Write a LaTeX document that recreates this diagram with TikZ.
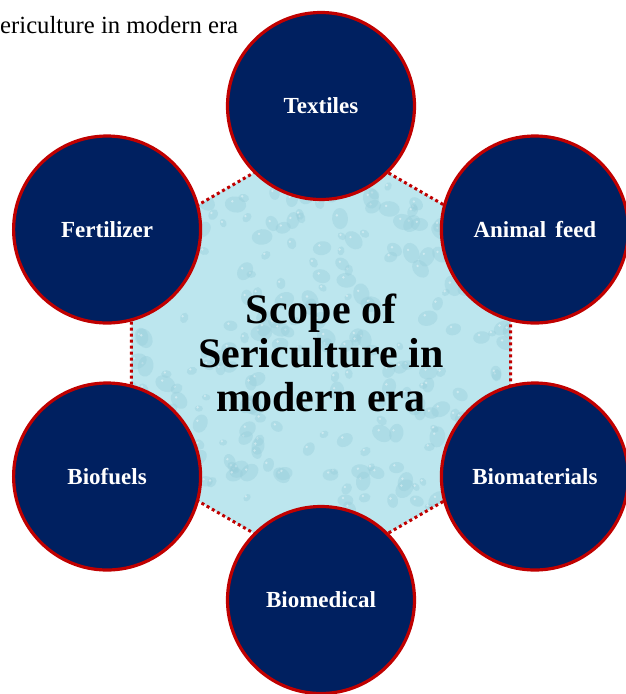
\documentclass[tikz,border=0pt]{standalone}
\usepackage{fontspec}
\setmainfont{Liberation Serif}
\definecolor{navy}{HTML}{002060}
\definecolor{rim}{HTML}{C00000}
\definecolor{water}{HTML}{BCE6EE}
\definecolor{drop}{HTML}{98CDDA}

\begin{document}
\begin{tikzpicture}[x=1pt,y=-1pt,
    bubble/.style={circle,fill=navy,draw=rim,line width=3.2pt,minimum size=187pt,inner sep=0pt,
      text=white,font=\fontsize{23}{26}\selectfont\bfseries}]
        \useasboundingbox (0,0) rectangle (625,694);

        \node[anchor=base west,inner sep=0pt,font=\fontsize{24.7}{28}\selectfont] (caption) at (0,33) {ericulture in modern era};

        % hexagon with water drops
        \fill [water] (321,134) -- (510.7,243.5) -- (510.7,462.5) -- (321,572) -- (131.3,462.5) -- (131.3,243.5) -- cycle;
        \begin{scope}
            \clip (321,134) -- (510.7,243.5) -- (510.7,462.5) -- (321,572) -- (131.3,462.5) -- (131.3,243.5) -- cycle;
            \pgfmathsetseed{11}
            \foreach \i in {1,...,320}{
                \pgfmathsetmacro\px{128+386*rnd}
                \pgfmathsetmacro\py{132+442*rnd}
                \pgfmathsetmacro\rx{4+7*rnd}
                \pgfmathsetmacro\rt{360*rnd}
                \fill [drop,opacity=.4,rotate around={\rt:(\px,\py)}] (\px,\py) ellipse ({\rx pt} and {0.75*\rx pt});
                \fill [white,opacity=.4] (\px-0.3*\rx,\py-0.3*\rx) circle (1.3pt);
            }
        \end{scope}
        \draw [rim,line width=3pt,dash pattern=on 3pt off 3pt] (321,134) -- (510.7,243.5) -- (510.7,462.5) -- (321,572) -- (131.3,462.5) -- (131.3,243.5) -- cycle;

        \node[align=center,font=\fontsize{42}{44}\selectfont\bfseries] (scope) at (321,353) {Scope of\\Sericulture in\\modern era};

        \node[bubble] (textiles) at (321,106) {Textiles};
        \node[bubble] (feed) at (534.9,229.5) {Animal\hspace{9pt}feed};
        \node[bubble] (biomat) at (534.9,476.5) {Biomaterials};
        \node[bubble] (biomed) at (321,600) {Biomedical};
        \node[bubble] (biofuel) at (107.1,476.5) {Biofuels};
        \node[bubble] (fert) at (107.1,229.5) {Fertilizer};
    \end{tikzpicture}
\end{document}
